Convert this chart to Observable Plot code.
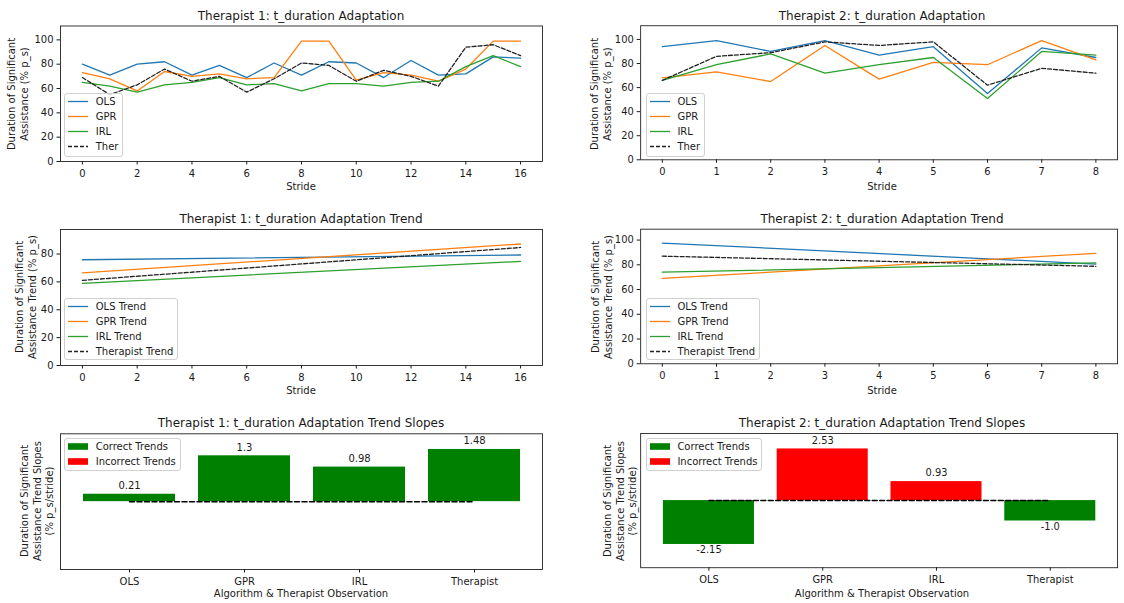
<!DOCTYPE html>
<html>
<head>
<meta charset="utf-8">
<script src="https://cdn.jsdelivr.net/npm/d3@7"></script>
<script src="https://cdn.jsdelivr.net/npm/@observablehq/plot@0.6"></script>
<style>
html,body{margin:0;padding:0;background:#fff;overflow:hidden}
#page{position:relative;width:1124px;height:603px;overflow:hidden;font-family:"DejaVu Sans",sans-serif;color:#1a1a1a;background:#fff}
.panel{position:absolute}
.panel svg{overflow:visible}
.title{position:absolute;white-space:nowrap;transform:translate(-50%,-50%);font-size:12px}
.xlab{position:absolute;white-space:nowrap;transform:translate(-50%,-50%);font-size:10px}
.ylab{position:absolute;white-space:nowrap;transform:translate(-50%,-50%) rotate(-90deg);font-size:10px;line-height:12.5px;text-align:center}
.legend{position:absolute;border:1px solid #d0d0d0;border-radius:3px;background:rgba(255,255,255,0.8);font-size:10px;box-sizing:border-box}
.legend .row{position:relative;height:15px;line-height:15px;padding-left:30.4px;padding-right:4px;white-space:nowrap}
.legend .sw{position:absolute;left:3px;top:0}
</style>
</head>
<body>
<div id="page"></div>
<script>
// ---------------- data ----------------
const t1Strides = [0,1,2,3,4,5,6,7,8,9,10,11,12,13,14,15,16];
const t2Strides = [0,1,2,3,4,5,6,7,8];

const seriesNames = ["OLS", "GPR", "IRL", "Ther"];
const trendNames = ["OLS Trend", "GPR Trend", "IRL Trend", "Therapist Trend"];
const slopeCategories = ["OLS", "GPR", "IRL", "Therapist"];

const t1OLS  = [80, 71, 80, 82, 71, 79, 69, 81, 71, 82, 81, 69, 83, 71, 72, 86, 85];
const t1GPR  = [73, 68, 58, 74, 70, 72, 68, 69, 99, 99, 67, 73, 71, 66, 76, 99, 99];
const t1IRL  = [65, 62, 57, 63, 65, 69, 63, 64, 58, 64, 64, 62, 65, 66, 78, 87, 78];
const t1Ther = [69, 55, 63, 76, 66, 70, 57, 68, 81, 79, 66, 75, 70, 62, 94, 96, 87];

const t2OLS  = [94, 99, 90, 99, 87, 94, 55, 93, 85];
const t2GPR  = [68, 73, 65, 95, 67, 81, 79, 99, 83];
const t2IRL  = [66, 79, 88, 72, 79, 85, 51, 90, 87];
const t2Ther = [66, 86, 89, 98, 95, 98, 62, 76, 72];

// trend line values at first and last stride (OLS, GPR, IRL, Therapist)
const t1TrendStart = [75.9, 66.5, 59.0, 61.1];
const t1TrendEnd   = [79.3, 87.2, 74.7, 84.7];
const t2TrendStart = [97.6, 69.0, 74.0, 87.0];
const t2TrendEnd   = [80.6, 89.3, 81.5, 78.8];

const t1Slopes = [0.21, 1.3, 0.98, 1.48];
const t1SlopeLabels = ["0.21", "1.3", "0.98", "1.48"];
const t1Correct = [true, true, true, true];
const t2Slopes = [-2.15, 2.53, 0.93, -1.0];
const t2SlopeLabels = ["-2.15", "2.53", "0.93", "-1.0"];
const t2Correct = [true, false, false, true];

const yTicksTop = [0, 20, 40, 60, 80, 100];
const yTicksMidL = [0, 20, 40, 60, 80];
const yTicksMidR = [0, 20, 40, 60, 80, 100];
const t1XTicks = [0, 2, 4, 6, 8, 10, 12, 14, 16];
const t2XTicks = [0, 1, 2, 3, 4, 5, 6, 7, 8];

// ---------------- styling ----------------
const colors = ["#1f77b4", "#ff7f0e", "#2ca02c", "#222222"];
const dashes = [null, null, null, "4,2"];
const GREEN = "#008000", RED = "#ff0000";

const page = document.getElementById("page");
const plotStyle = {fontFamily: "DejaVu Sans, sans-serif", fontSize: "10px", color: "#1a1a1a", background: "transparent", overflow: "visible"};

const COLS = [
  {left: 0, width: 560, ml: 60, mr: 18},     // frame 60..542
  {left: 560, width: 570, ml: 81, mr: 7}     // frame 641..1123
];
const ROWS = [
  {top: 0, height: 200, mt: 25.5, mb: 39},   // frame 25.5..161
  {top: 200, height: 200, mt: 29, mb: 35},   // frame 229..365
  {top: 400, height: 203, mt: 33.3, mb: 34}  // frame 433.3..569
];

function mount(svg, col, row) {
  const d = document.createElement("div");
  d.className = "panel";
  d.style.left = col.left + "px";
  d.style.top = row.top + "px";
  d.appendChild(svg);
  page.appendChild(d);
}

function addText(cls, x, y, html) {
  const d = document.createElement("div");
  d.className = cls;
  d.style.left = x + "px";
  d.style.top = y + "px";
  d.innerHTML = html;
  page.appendChild(d);
}

function addLegend(left, top, padTop, padBottom, items) {
  const box = document.createElement("div");
  box.className = "legend";
  box.style.left = left + "px";
  box.style.top = top + "px";
  box.style.paddingTop = padTop + "px";
  box.style.paddingBottom = padBottom + "px";
  for (const it of items) {
    const r = document.createElement("div");
    r.className = "row";
    let sw;
    if (it.patch) {
      sw = `<svg class="sw" width="20" height="15"><rect x="0" y="4.2" width="20" height="6.6" fill="${it.color}"/></svg>`;
    } else {
      sw = `<svg class="sw" width="20" height="15"><line x1="0" x2="20" y1="7.5" y2="7.5" stroke="${it.color}" stroke-width="1.3" ${it.dash ? `stroke-dasharray="${it.dash}"` : ""}/></svg>`;
    }
    r.innerHTML = sw + it.label;
    box.appendChild(r);
  }
  page.appendChild(box);
}

function frameX(col) { return [col.left + col.ml, col.left + col.width - col.mr]; }

function linePanel(col, row, xDomain, xTicks, yDomain, yTicks, seriesList) {
  const marks = [];
  seriesList.forEach((s, k) => {
    marks.push(Plot.line(s, {x: "x", y: "y", stroke: colors[k], strokeWidth: 1.3,
      strokeDasharray: dashes[k] || undefined}));
  });
  marks.push(Plot.frame({stroke: "#222", strokeWidth: 0.9}));
  const svg = Plot.plot({
    width: col.width, height: row.height,
    marginLeft: col.ml, marginRight: col.mr, marginTop: row.mt, marginBottom: row.mb,
    style: plotStyle,
    x: {domain: xDomain, ticks: xTicks, tickSize: 3.5, tickPadding: 5, label: null},
    y: {domain: yDomain, ticks: yTicks, tickSize: 3.5, tickPadding: 3.5, label: null},
    marks
  });
  mount(svg, col, row);
}

function toRows(strides, values) { return values.map((v, i) => ({x: strides[i], y: v})); }
function trendRows(strides, start, end) {
  return [{x: strides[0], y: start}, {x: strides[strides.length - 1], y: end}];
}

function barPanel(col, row, slopes, labels, correct) {
  const data = slopeCategories.map((c, i) => ({cat: c, v: slopes[i], label: labels[i], ok: correct[i]}));
  const m = 1.3 * d3.max(slopes, Math.abs);
  const zeroLine = [{cat: slopeCategories[0], v: 0}, {cat: slopeCategories[slopeCategories.length - 1], v: 0}];
  const svg = Plot.plot({
    width: col.width, height: row.height,
    marginLeft: col.ml, marginRight: col.mr, marginTop: row.mt, marginBottom: row.mb,
    style: plotStyle,
    x: {type: "band", domain: slopeCategories, paddingInner: 0.2, paddingOuter: 0.19, tickSize: 3.5, tickPadding: 5, label: null},
    y: {domain: [-m, m], axis: null},
    marks: [
      Plot.barY(data.filter(d => d.ok), {x: "cat", y: "v", fill: GREEN}),
      Plot.barY(data.filter(d => !d.ok), {x: "cat", y: "v", fill: RED}),
      Plot.line(zeroLine, {x: "cat", y: "v", stroke: "#000", strokeWidth: 1.5, strokeDasharray: "5,2.5"}),
      Plot.text(data.filter(d => d.v >= 0), {x: "cat", y: "v", text: "label", dy: -8.5, fill: "#1a1a1a", fontSize: 10}),
      Plot.text(data.filter(d => d.v < 0), {x: "cat", y: "v", text: "label", dy: 5.5, fill: "#1a1a1a", fontSize: 10}),
      Plot.frame({stroke: "#222", strokeWidth: 0.9})
    ]
  });
  mount(svg, col, row);
}

// ---------------- panels ----------------
const L = COLS[0], R = COLS[1];
const topDomain = [0, 111.4];

linePanel(L, ROWS[0], [-0.8, 16.8], t1XTicks, topDomain, yTicksTop,
  [t1OLS, t1GPR, t1IRL, t1Ther].map(v => toRows(t1Strides, v)));
linePanel(R, ROWS[0], [-0.4, 8.4], t2XTicks, topDomain, yTicksTop,
  [t2OLS, t2GPR, t2IRL, t2Ther].map(v => toRows(t2Strides, v)));

linePanel(L, ROWS[1], [-0.8, 16.8], t1XTicks, [0, 97.6], yTicksMidL,
  t1TrendStart.map((s, k) => trendRows(t1Strides, s, t1TrendEnd[k])));
linePanel(R, ROWS[1], [-0.4, 8.4], t2XTicks, [0, 108.8], yTicksMidR,
  t2TrendStart.map((s, k) => trendRows(t2Strides, s, t2TrendEnd[k])));

barPanel(L, ROWS[2], t1Slopes, t1SlopeLabels, t1Correct);
barPanel(R, ROWS[2], t2Slopes, t2SlopeLabels, t2Correct);

// ---------------- text ----------------
const cxL = d3.mean(frameX(L)), cxR = d3.mean(frameX(R));
addText("title", cxL, 15.7, "Therapist 1: t_duration Adaptation");
addText("title", cxR, 15.7, "Therapist 2: t_duration Adaptation");
addText("title", cxL, 219, "Therapist 1: t_duration Adaptation Trend");
addText("title", cxR, 219, "Therapist 2: t_duration Adaptation Trend");
addText("title", cxL, 423.3, "Therapist 1: t_duration Adaptation Trend Slopes");
addText("title", cxR, 423.3, "Therapist 2: t_duration Adaptation Trend Slopes");

addText("xlab", cxL, 186, "Stride");
addText("xlab", cxR, 186, "Stride");
addText("xlab", cxL, 390, "Stride");
addText("xlab", cxR, 390, "Stride");
addText("xlab", cxL, 593.3, "Algorithm &amp; Therapist Observation");
addText("xlab", cxR, 593.3, "Algorithm &amp; Therapist Observation");

addText("ylab", 18, 93.5, "Duration of Significant<br>Assistance (% p_s)");
addText("ylab", 600.5, 93.5, "Duration of Significant<br>Assistance (% p_s)");
addText("ylab", 26.3, 297, "Duration of Significant<br>Assistance Trend (% p_s)");
addText("ylab", 602, 297, "Duration of Significant<br>Assistance Trend (% p_s)");
addText("ylab", 37.5, 501, "Duration of Significant<br>Assistance Trend Slopes<br>(% p_s/stride)");
addText("ylab", 621.2, 501, "Duration of Significant<br>Assistance Trend Slopes<br>(% p_s/stride)");

// ---------------- legends ----------------
const lineItems = seriesNames.map((n, k) => ({label: n, color: colors[k], dash: dashes[k]}));
const trendItems = trendNames.map((n, k) => ({label: n, color: colors[k], dash: dashes[k]}));
const barItems = [{label: "Correct Trends", color: GREEN, patch: true}, {label: "Incorrect Trends", color: RED, patch: true}];

addLegend(64.3, 92.7, 0.5, 2, lineItems);
addLegend(646, 92.7, 0.5, 2, lineItems);
addLegend(64.3, 297.7, 0, 0.5, trendItems);
addLegend(646, 297.7, 0, 0.5, trendItems);
addLegend(64.3, 438.3, 0, 1, barItems);
addLegend(646, 438.3, 0, 1, barItems);
</script>
</body>
</html>
